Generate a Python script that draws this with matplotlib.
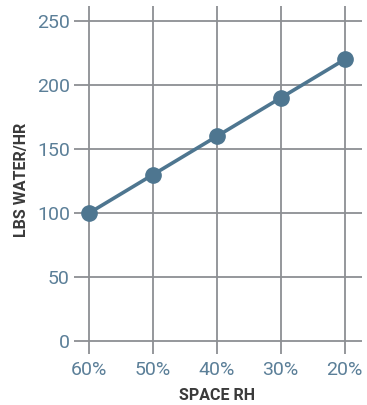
import matplotlib
matplotlib.use("Agg")
import matplotlib.pyplot as plt
from matplotlib import font_manager

categories = ["60%", "50%", "40%", "30%", "20%"]
values = [100, 130, 160, 190, 220]
yticks = [0, 50, 100, 150, 200, 250]

names = {f.name for f in font_manager.fontManager.ttflist}
fam = "Liberation Sans Narrow" if "Liberation Sans Narrow" in names else "Roboto"
plt.rcParams['font.family'] = [fam, 'DejaVu Sans']

tick_color = "#5b7f98"
line_color = "#4e7690"
grid_color = "#8c8f93"

fig = plt.figure(figsize=(3.67, 4.05), dpi=100)
ax = fig.add_axes([74/367, 51/405, 288/367, 348/405])
x = list(range(len(categories)))
ax.plot(x, values, color=line_color, lw=2.6, marker="o", ms=11, zorder=3)

ax.set_xlim(-0.23, 4.27)
ax.set_ylim(-9.8, 261.7)
ax.set_xticks(x)
ax.set_xticklabels(categories)
ax.set_yticks(yticks)
ax.grid(True, color=grid_color, lw=1.3)
ax.set_axisbelow(True)
for s in ax.spines.values():
    s.set_visible(False)
ax.tick_params(length=0, labelsize=14, colors=tick_color)
ax.tick_params(axis='y', pad=3)
ax.tick_params(axis='x', pad=5)

fig.text(22/367, 1 - 180/405, "LBS WATER/HR", rotation=90, ha="center", va="center",
         fontsize=11.5, fontweight="bold", color="#3a3a3a")
fig.text(217/367, 1 - 395/405, "SPACE RH", ha="center", va="center",
         fontsize=11.5, fontweight="bold", color="#3a3a3a")

fig.savefig("out.png", dpi=100)
